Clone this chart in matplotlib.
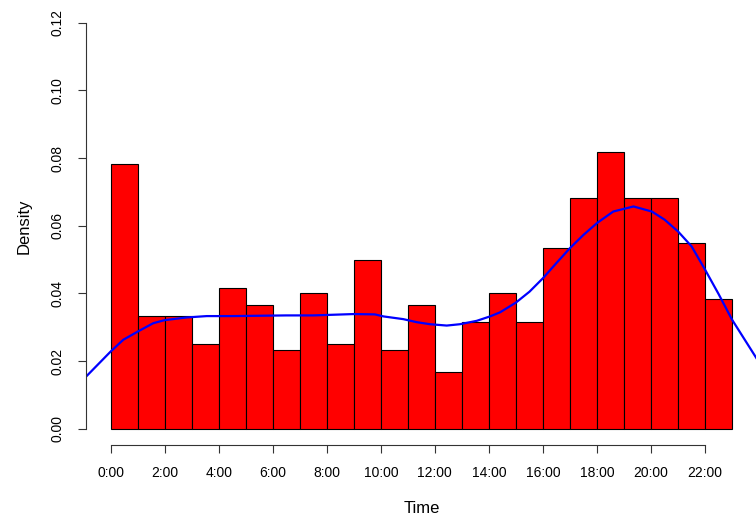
import numpy as np
import matplotlib
matplotlib.use("Agg")
import matplotlib.pyplot as plt

plt.rcParams['font.family'] = ['Liberation Sans', 'DejaVu Sans']

# hourly counts (histogram of event times, 600 events in total)
hours = list(range(23))
counts = [47, 20, 20, 15, 25, 22, 14, 24, 15, 30, 14, 22,
          10, 19, 24, 19, 32, 41, 49, 41, 41, 33, 23]

# density curve (hour, density)
curve_hours = [-0.92, 0.0, 0.47, 1.0, 1.58, 2.0, 2.82, 3.56, 4.5, 5.5, 6.5,
               7.5, 8.25, 9.0, 9.78, 10.1, 10.83, 11.33, 11.82, 12.44, 12.93,
               13.55, 14.04, 14.41, 15.0, 15.5, 16.0, 16.5, 17.0, 17.5, 18.0,
               18.6, 19.35, 20.03, 20.5, 21.0, 21.5, 22.0, 22.5, 23.0, 23.92]
curve_density = [0.0153, 0.0228, 0.0263, 0.0287, 0.0312, 0.0321, 0.0329,
                 0.0333, 0.0333, 0.0334, 0.0335, 0.0335, 0.0337, 0.0339,
                 0.0338, 0.0332, 0.0324, 0.0315, 0.0309, 0.0305, 0.0309,
                 0.0319, 0.0332, 0.0344, 0.0373, 0.0405, 0.0445, 0.0490,
                 0.0534, 0.0573, 0.0608, 0.0642, 0.0657, 0.0642, 0.0618,
                 0.0583, 0.0539, 0.0470, 0.0398, 0.0322, 0.0206]

xticks = list(range(0, 23, 2))
xtick_labels = ["%d:00" % h for h in xticks]
yticks = [0.00, 0.02, 0.04, 0.06, 0.08, 0.10, 0.12]

density = np.array(counts) / sum(counts)

fig = plt.figure(figsize=(7.56, 5.17), dpi=100)
ax = fig.add_axes([85.7 / 756, 72 / 517, (757 - 85.7) / 756, (445 - 6.5) / 517])

ax.bar(hours, density, width=1.0, align='edge', color='#ff0000',
       edgecolor='black', linewidth=0.8)
ax.plot(curve_hours, curve_density, color='#0000ff', linewidth=1.6)

ax.set_xlim(-0.92, 23.92)
ax.set_ylim(-0.0048, 0.1248)

for side in ['top', 'right']:
    ax.spines[side].set_visible(False)
ax.spines['left'].set_bounds(0, 0.12)
ax.spines['bottom'].set_bounds(0, 22)
for side in ['left', 'bottom']:
    ax.spines[side].set_linewidth(0.8)
    ax.spines[side].set_color('#333333')

ax.set_xticks(xticks)
ax.set_xticklabels(xtick_labels)
ax.set_yticks(yticks)
ax.set_yticklabels(["%.2f" % v for v in yticks])
ax.tick_params(axis='both', length=6, width=0.8, color='#333333',
               labelsize=10, pad=9)
for lab in ax.get_yticklabels():
    lab.set_rotation(90)
    lab.set_va('center')

ax.set_xlabel("Time", fontsize=12, labelpad=15)
ax.set_ylabel("Density", fontsize=12, labelpad=14)

fig.savefig("out.png", dpi=100)
